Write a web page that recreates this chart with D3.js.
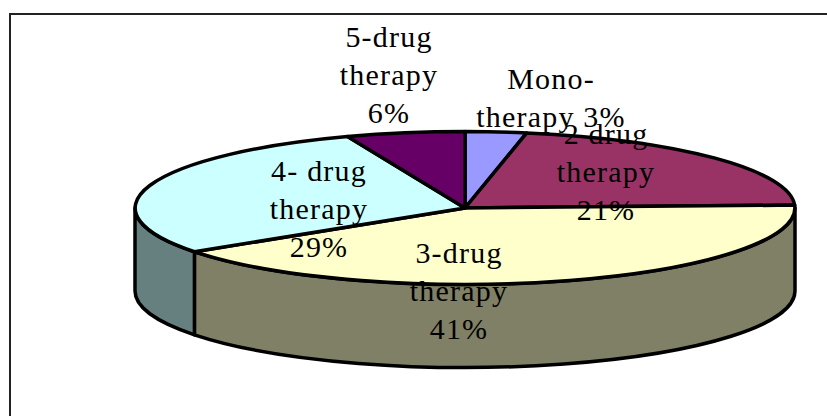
<!DOCTYPE html>
<html>
<head>
<meta charset="utf-8">
<script src="https://cdn.jsdelivr.net/npm/d3@7"></script>
<style>
  html, body { margin: 0; padding: 0; background: #fff; }
  svg { display: block; }
  .slice, .wall { stroke: #000; stroke-width: 3.5px; stroke-linejoin: round; vector-effect: non-scaling-stroke; }
  .label { font-family: "Liberation Serif", serif; font-size: 30px; letter-spacing: 1.2px; fill: #000; text-anchor: middle; }
</style>
</head>
<body>
<svg id="chart"></svg>
<script>
const categories = ["Mono-therapy", "2-drug therapy", "3-drug therapy", "4-drug therapy", "5-drug therapy"];
const shares = [3, 21.4, 40.9, 28.9, 5.8];
const topColours = ["#9999ff", "#993366", "#ffffcc", "#ccffff", "#660066"];
const wallColours = ["#4d4d80", "#4d1a33", "#808066", "#668080", "#330033"];
const labelLines = [
    ["Mono-", "therapy 3%"],
    ["2  drug", "therapy", "21%"],
    ["3-drug", "therapy", "41%"],
    ["4- drug", "therapy", "29%"],
    ["5-drug", "therapy", "6%"]
];
const labelAnchors = [[551, 89], [606, 144], [459, 263], [319, 181], [389, 47]];

const width = 827, height = 416;
const centre = {x: 465, y: 208};
const radiusX = 330, radiusY = 76.5, depth = 83;

const svg = d3.select("#chart").attr("width", width).attr("height", height);

// Frame: only the top and left edges fall inside the picture
svg.append("path")
    .attr("d", "M10,416V14H827")
    .attr("fill", "none").attr("stroke", "#222").attr("stroke-width", 2);

const slices = d3.pie().sort(null).value(d => d)(shares);

// Unit circle squashed into an ellipse
const tilt = `translate(${centre.x},${centre.y}) scale(${radiusX},${radiusY})`;
const pie = svg.append("g").attr("transform", tilt);
const unitDepth = depth / radiusY;

// Only the part of the rim facing the viewer gets a wall
function wallPath(d) {
    const a = Math.max(d.startAngle, Math.PI / 2) - Math.PI / 2;
    const b = Math.min(d.endAngle, 3 * Math.PI / 2) - Math.PI / 2;
    if (a >= b) return null;
    const p = d3.path();
    p.arc(0, 0, 1, a, b);
    p.arc(0, unitDepth, 1, b, a, true);
    p.closePath();
    return p.toString();
}

pie.selectAll("path.wall")
    .data(slices)
    .join("path")
    .attr("class", "wall")
    .attr("d", wallPath)
    .attr("fill", (d, i) => wallColours[i]);

pie.selectAll("path.slice")
    .data(slices)
    .join("path")
    .attr("class", "slice")
    .attr("d", d3.arc().innerRadius(0).outerRadius(1))
    .attr("fill", (d, i) => topColours[i]);

// Labels
const lineHeight = 38;
svg.selectAll("text.label")
    .data(labelLines)
    .join("text")
    .attr("class", "label")
    .attr("x", (d, i) => labelAnchors[i][0])
    .attr("y", (d, i) => labelAnchors[i][1])
    .selectAll("tspan")
    .data((d, i) => d.map(line => ({line, x: labelAnchors[i][0]})))
    .join("tspan")
    .attr("x", d => d.x)
    .attr("dy", (d, i) => i ? lineHeight : 0)
    .text(d => d.line);
</script>
</body>
</html>
